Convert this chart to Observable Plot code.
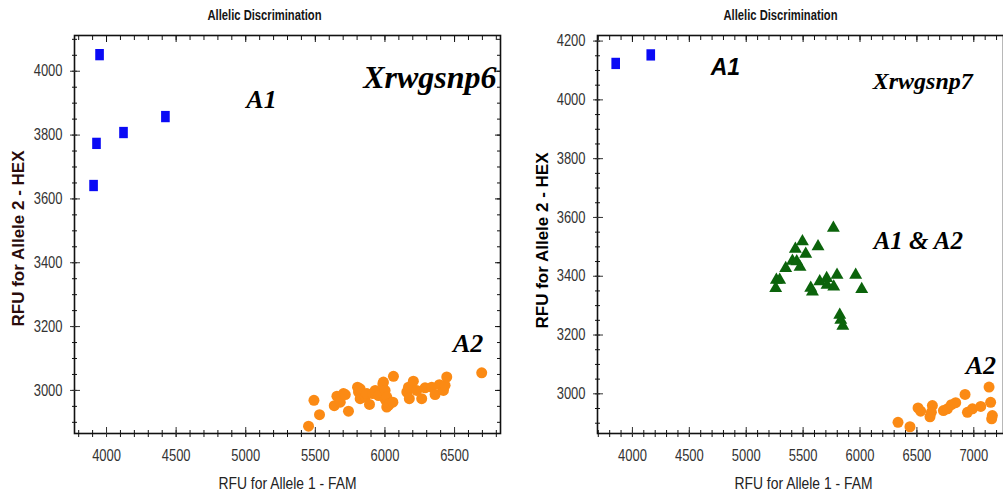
<!DOCTYPE html>
<html>
<head>
<meta charset="utf-8">
<script src="https://cdn.jsdelivr.net/npm/d3@7"></script>
<script src="https://cdn.jsdelivr.net/npm/@observablehq/plot@0.6"></script>
<style>
  html, body { margin: 0; padding: 0; background: #fff; }
  #wrap { position: relative; width: 1003px; height: 497px; overflow: hidden; background: #fff; }
  #left { position: absolute; left: 0; top: 0; }
  #right { position: absolute; left: 502px; top: 0; }
  svg { background: transparent !important; }
</style>
</head>
<body>
<div id="wrap"><div id="left"></div><div id="right"></div></div>
<script>
// ---------- Data (RFU values) ----------
const titleText = "Allelic Discrimination";
const xLabelText = "RFU for Allele 1 - FAM";
const yLabelText = "RFU for Allele 2 - HEX";

// Xrwgsnp6 panel
const snp6_A1 = [[3950,4052],[3928,3774],[3907,3642],[4122,3808],[4423,3858]];
const snp6_A2 = [
  [5451,2888],[5490,2969],[5530,2924],[5636,2952],[5655,2982],[5679,2963],[5702,2990],[5715,2987],
  [5738,2935],[5803,3010],[5810,2995],[5822,2974],[5822,3005],[5858,2979],[5870,2990],[5889,2956],
  [5913,2990],[5930,3000],[5954,2984],[5985,3021],[5989,3026],[6001,3000],[6001,2972],[6013,2979],
  [6013,2948],[6025,2953],[6037,2960],[6061,3044],[6057,2963],[6157,2995],[6169,3010],[6175,2974],
  [6204,3029],[6228,3000],[6264,2974],[6288,3008],[6336,3010],[6360,2987],[6391,3018],[6420,3000],
  [6432,3016],[6444,3042],[6695,3055]
];
const snp6_xMajor = [4000,4500,5000,5500,6000,6500];
const snp6_xMinor = [3800,3900,4000,4100,4200,4300,4400,4500,4600,4700,4800,4900,5000,5100,5200,5300,5400,5500,5600,5700,5800,5900,6000,6100,6200,6300,6400,6500,6600,6700,6800];
const snp6_yMajor = [3000,3200,3400,3600,3800,4000];
const snp6_yMinor = [2900,2950,3000,3050,3100,3150,3200,3250,3300,3350,3400,3450,3500,3550,3600,3650,3700,3750,3800,3850,3900,3950,4000,4050,4100];
const snp6_labels = [
  {x:5844, y:3946, text:"Xrwgsnp6", size:32},
  {x:5004, y:3886, text:"A1", size:26},
  {x:6489, y:3120, text:"A2", size:26}
];

// Xrwgsnp7 panel
const snp7_A1 = [[3853,4124],[4161,4153]];
const snp7_A1A2 = [
  [5766,3564],[5494,3518],[5631,3501],[5432,3493],[5523,3476],[5406,3452],[5444,3450],[5473,3431],
  [5347,3427],[5265,3387],[5294,3387],[5259,3359],[5582,3347],[5567,3360],[5646,3382],[5707,3393],
  [5710,3370],[5798,3404],[5769,3364],[5962,3404],[6015,3356],[5822,3268],[5831,3251],[5849,3231]
];
const snp7_A2 = [
  [6334,2903],[6439,2888],[6510,2952],[6533,2941],[6615,2922],[6636,2960],[6627,2937],[6733,2943],
  [6768,2949],[6803,2963],[6841,2970],[6923,2998],[6944,2937],[6988,2949],[7061,2957],[7134,3023],
  [7148,2971],[7163,2926],[7157,2915]
];
const snp7_xMajor = [4000,4500,5000,5500,6000,6500,7000];
const snp7_xMinor = [3700,3800,3900,4000,4100,4200,4300,4400,4500,4600,4700,4800,4900,5000,5100,5200,5300,5400,5500,5600,5700,5800,5900,6000,6100,6200,6300,6400,6500,6600,6700,6800,6900,7000,7100,7200];
const snp7_yMajor = [3000,3200,3400,3600,3800,4000,4200];
const snp7_yMinor = [2900,2950,3000,3050,3100,3150,3200,3250,3300,3350,3400,3450,3500,3550,3600,3650,3700,3750,3800,3850,3900,3950,4000,4050,4100,4150,4200];
const snp7_labelsSerif = [
  {x:6112, y:4038, text:"Xrwgsnp7", size:24},
  {x:6120, y:3491, text:"A1 & A2", size:25},
  {x:6929, y:3069, text:"A2", size:26}
];
const snp7_labelsSans = [{x:4688, y:4085, text:"A1", size:23}];

// ---------- Styling ----------
const sans = "'Liberation Sans',Arial,sans-serif";
const serif = "'Liberation Serif','Times New Roman',serif";
const BLUE = "#0a0af5", ORANGE = "#fb8a14", GREEN = "#0b630b";

const tallRect = {
  draw(ctx, size) {
    const s = Math.sqrt(size), w = s * 0.42, h = s * 0.55;
    ctx.moveTo(-w, -h); ctx.lineTo(w, -h); ctx.lineTo(w, h); ctx.lineTo(-w, h); ctx.closePath();
  }
};
const blank = () => "";

function axes(xMajor, xMinor, yMajor, yMinor, rightSide) {
  const m = [
    Plot.axisX({anchor: "bottom", ticks: xMinor, tickSize: 7, dy: -3, tickFormat: blank, label: null, color: "#111"}),
    Plot.axisX({anchor: "bottom", ticks: xMajor, tickSize: 10, dy: -6, tickPadding: 12, tickFormat: "d", label: null, color: "#333", fontSize: 16, fontFamily: sans}),
    Plot.axisX({anchor: "top", ticks: xMinor, tickSize: 4, dy: 4, tickFormat: blank, label: null, color: "#111"}),
    Plot.axisX({anchor: "top", ticks: xMajor, tickSize: 6, dy: 6, tickFormat: blank, label: null, color: "#111"}),
    Plot.axisY({anchor: "left", ticks: yMinor, tickSize: 5, dx: 3, tickFormat: blank, label: null, color: "#111"}),
    Plot.axisY({anchor: "left", ticks: yMajor, tickSize: 10, dx: 6, tickPadding: 8, tickFormat: "d", label: null, color: "#333", fontSize: 16, fontFamily: sans})
  ];
  if (rightSide) {
    m.push(Plot.axisY({anchor: "right", ticks: yMinor, tickSize: 4, dx: -4, tickFormat: blank, label: null, color: "#111"}));
    m.push(Plot.axisY({anchor: "right", ticks: yMajor, tickSize: 6, dx: -6, tickFormat: blank, label: null, color: "#111"}));
  }
  return m;
}

function textMarks(titleDx, yDx, yDy, xDx, yColor) {
  return [
    Plot.text([titleText], {frameAnchor: "top", dx: titleDx, dy: -20, textAnchor: "middle", lineAnchor: "middle", fontSize: 14, fontFamily: sans, fill: "#141414", fontWeight: "bold"}),
    Plot.text([yLabelText], {frameAnchor: "left", rotate: -90, dx: yDx, dy: yDy, textAnchor: "middle", lineAnchor: "middle", fontSize: 17, fontFamily: sans, fontWeight: "bold", fill: yColor}),
    Plot.text([xLabelText], {frameAnchor: "bottom", dx: xDx, dy: 50, textAnchor: "middle", lineAnchor: "middle", fontSize: 16.5, fontFamily: sans, fill: "#222"})
  ];
}

// condense text horizontally (the original uses a narrow typeface)
function squeeze(t, factor) {
  const w = t.getComputedTextLength();
  if (w > 0) {
    t.setAttribute("textLength", (w * factor).toFixed(1));
    t.setAttribute("lengthAdjust", "spacingAndGlyphs");
  }
}
function fitTo(t, target) {
  const w = t.getComputedTextLength();
  if (w > 0) squeeze(t, target / w);
}
function finish(svg) {
  svg.querySelectorAll('g[aria-label="x-axis tick label"] text, g[aria-label="y-axis tick label"] text').forEach(t => squeeze(t, 0.81));
  svg.querySelectorAll("text").forEach(t => {
    if (t.textContent === xLabelText) fitTo(t, 138);
    if (t.textContent === titleText) fitTo(t, 114);
  });
}

const left = Plot.plot({
  width: 502, height: 497,
  marginLeft: 74, marginRight: 2, marginTop: 35, marginBottom: 64,
  x: {domain: [3770, 6830]},
  y: {domain: [2865, 4112]},
  style: {background: "transparent", overflow: "visible"},
  marks: [
    Plot.frame({stroke: "#111", strokeWidth: 1.6}),
    ...axes(snp6_xMajor, snp6_xMinor, snp6_yMajor, snp6_yMinor, true),
    Plot.dot(snp6_A2, {x: d => d[0], y: d => d[1], r: 5.5, fill: ORANGE, stroke: "none"}),
    Plot.dot(snp6_A1, {x: d => d[0], y: d => d[1], r: 5.8, symbol: tallRect, fill: BLUE, stroke: "none"}),
    Plot.text(snp6_labels, {x: "x", y: "y", text: "text", fontSize: d => d.size, fontFamily: serif, fontWeight: "bold", fontStyle: "italic", textAnchor: "start", lineAnchor: "bottom", fill: "#000"}),
    ...textMarks(-23, -56, 4, 0, "#2a0c0c")
  ]
});
document.getElementById("left").appendChild(left);
finish(left);

const right = Plot.plot({
  width: 501, height: 497,
  marginLeft: 95, marginRight: 0, marginTop: 35, marginBottom: 64,
  x: {domain: [3693, 7261]},
  y: {domain: [2865, 4219]},
  style: {background: "transparent", overflow: "visible"},
  marks: [
    Plot.frame({stroke: "#111", strokeWidth: 1.6}),
    ...axes(snp7_xMajor, snp7_xMinor, snp7_yMajor, snp7_yMinor, false),
    Plot.dot(snp7_A2, {x: d => d[0], y: d => d[1], r: 5.5, fill: ORANGE, stroke: "none"}),
    Plot.dot(snp7_A1A2, {x: d => d[0], y: d => d[1], r: 4.8, symbol: "triangle", fill: GREEN, stroke: "none"}),
    Plot.dot(snp7_A1, {x: d => d[0], y: d => d[1], r: 5.8, symbol: tallRect, fill: BLUE, stroke: "none"}),
    Plot.text(snp7_labelsSerif, {x: "x", y: "y", text: "text", fontSize: d => d.size, fontFamily: serif, fontWeight: "bold", fontStyle: "italic", textAnchor: "start", lineAnchor: "bottom", fill: "#000"}),
    Plot.text(snp7_labelsSans, {x: "x", y: "y", text: "text", fontSize: d => d.size, fontFamily: sans, fontWeight: "bold", fontStyle: "italic", textAnchor: "start", lineAnchor: "bottom", fill: "#000"}),
    ...textMarks(-20, -55, 6, 3, "#000")
  ]
});
document.getElementById("right").appendChild(right);
finish(right);
</script>
</body>
</html>
